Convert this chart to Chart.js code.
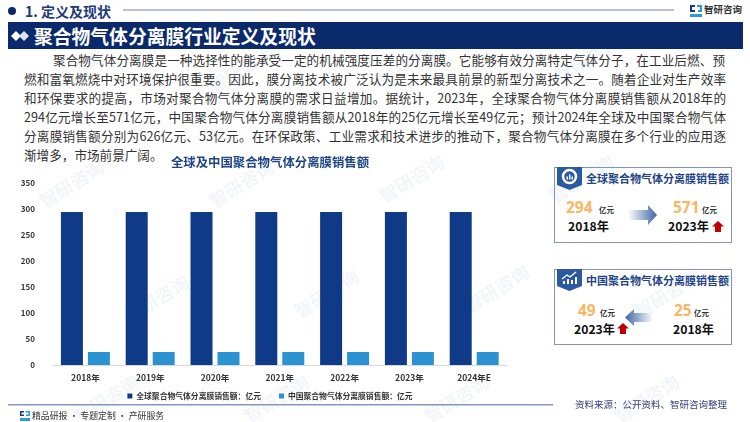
<!DOCTYPE html>
<html>
<head>
<meta charset="utf-8">
<script src="https://cdn.jsdelivr.net/npm/chart.js"></script>
<style>
html,body{margin:0;padding:0;background:#fff;}
body{width:750px;height:422px;overflow:hidden;position:relative;font-family:"Noto Sans CJK SC","Noto Sans",sans-serif;}
.a{position:absolute;white-space:nowrap;}
.para-line{position:absolute;left:24px;width:702px;font-size:12.6px;color:#333;text-align:justify;text-align-last:justify;}
.box{position:absolute;left:554px;width:178px;border:1px solid #7f93c4;box-sizing:border-box;}
.boxt{font-weight:700;color:#1f4587;font-size:11px;}
.num{font-weight:700;color:#fbb563;font-size:15.5px;font-family:"Open Sans","Noto Sans",sans-serif;}
.unit{font-weight:700;color:#333;font-size:7.5px;}
.yr{font-weight:700;color:#111;font-size:12.2px;}
.wm{position:absolute;color:#f1f5f9;font-size:18px;transform:rotate(-32deg);white-space:nowrap;font-weight:500;}
</style>
</head>
<body>
<div id="wms"></div>

<svg class="a" style="left:0;top:0" width="750" height="60">
  <circle cx="12" cy="11" r="4" fill="#0b2a6b"/>
  <line x1="123" y1="10" x2="674" y2="10" stroke="#6f86b8" stroke-width="1"/>
  <rect x="8" y="22" width="735" height="27" fill="#0b2a6b"/>
  <path d="M11 36 L16 31 L21 36 L16 41Z" fill="#fff"/>
  <path d="M19 36 L24 31 L29 36 L24 41Z" fill="#dfe5f0"/>
</svg>
<div class="a" style="left:25px;top:1px;font-size:14px;font-weight:700;color:#1d3a78;">1. 定义及现状</div>
<div class="a" style="left:34px;top:22px;font-size:18.8px;font-weight:700;color:#fff;">聚合物气体分离膜行业定义及现状</div>
<svg class="a" style="left:689px;top:4px" width="14" height="14">
  <path d="M1 1h5v2H3v3h3v2H1z" fill="#1d3a78"/>
  <path d="M8 1h5v7H9V6h2V3H8z" fill="#2f9bd6"/>
  <path d="M1 10h12v3H1z" fill="#2f9bd6"/>
</svg>
<div class="a" style="left:704px;top:2px;font-size:9.5px;font-weight:700;color:#333;">智研咨询</div>

<div class="para-line" style="left:53px;width:672px;top:50px;">聚合物气体分离膜是一种选择性的能承受一定的机械强度压差的分离膜。它能够有效分离特定气体分子，在工业后燃、预</div>
<div class="para-line" style="top:69px;">燃和富氧燃烧中对环境保护很重要。因此，膜分离技术被广泛认为是未来最具前景的新型分离技术之一。随着企业对生产效率</div>
<div class="para-line" style="top:88px;">和环保要求的提高，市场对聚合物气体分离膜的需求日益增加。据统计，2023年，全球聚合物气体分离膜销售额从2018年的</div>
<div class="para-line" style="top:107px;">294亿元增长至571亿元，中国聚合物气体分离膜销售额从2018年的25亿元增长至49亿元；预计2024年全球及中国聚合物气体</div>
<div class="para-line" style="top:126px;">分离膜销售额分别为626亿元、53亿元。在环保政策、工业需求和技术进步的推动下，聚合物气体分离膜在多个行业的应用逐</div>
<div class="para-line" style="top:145px;width:auto;text-align-last:left;">渐增多，市场前景广阔。</div>

<div class="a" style="left:0;top:152px;width:540px;height:267px;">
  <canvas id="myChart" width="540" height="267"></canvas>
</div>

<!-- global box -->
<div class="box" style="top:167px;height:76px;"></div>
<svg class="a" style="left:557px;top:167px" width="25" height="23"><path d="M0 0h25v18l-12.500 5L0 18z" fill="#2c5aa0"/><circle cx="12.500" cy="9.500" r="6.500" fill="none" stroke="#fff" stroke-width="2.500"/><path d="M9.500 12.500v-3H11v3zM12 12.500v-5h1.500v5zM14.500 12.500v-3H16v3z" fill="#fff"/></svg>
<div class="a boxt" style="left:586px;top:170px;">全球聚合物气体分离膜销售额</div>
<div class="a num" style="left:566px;top:196px;">294</div>
<div class="a unit" style="left:599px;top:204px;">亿元</div>
<div class="a yr" style="left:568px;top:217px;">2018年</div>
<svg class="a" style="left:628px;top:205px" width="30" height="20">
  <defs><linearGradient id="g1"><stop offset="0" stop-color="#fff"/><stop offset="1" stop-color="#3f64a6"/></linearGradient></defs>
  <path d="M0 5h20V0l9 10-9 10v-5H0z" fill="url(#g1)"/>
</svg>
<div class="a num" style="left:673px;top:196px;">571</div>
<div class="a unit" style="left:702px;top:204px;">亿元</div>
<div class="a yr" style="left:668px;top:217px;">2023年</div>
<svg class="a" style="left:712px;top:221px" width="12" height="11"><path d="M6 0l6 5.500H9V11H3V5.500H0z" fill="#c00000"/></svg>

<!-- china box -->
<div class="box" style="top:269px;height:76px;"></div>
<svg class="a" style="left:557px;top:269px" width="25" height="22"><path d="M0 0h25v17l-12.500 5L0 17z" fill="#2c5aa0"/><path d="M6 15v-3h2v3zM10 15v-5h2v5zM14 15v-4h2v4zM18 15V8h2v7z" fill="#fff"/><path d="M5 10l5-4 3 2 6-5" fill="none" stroke="#fff" stroke-width="1.400"/></svg>
<div class="a boxt" style="left:586px;top:272px;">中国聚合物气体分离膜销售额</div>
<div class="a num" style="left:578px;top:299px;">49</div>
<div class="a unit" style="left:600px;top:307px;">亿元</div>
<div class="a yr" style="left:574px;top:320px;">2023年</div>
<svg class="a" style="left:617px;top:323px" width="12" height="11"><path d="M6 0l6 5.500H9V11H3V5.500H0z" fill="#c00000"/></svg>
<svg class="a" style="left:625px;top:309px" width="28" height="17">
  <defs><linearGradient id="g2" x1="1" x2="0"><stop offset="0" stop-color="#fff"/><stop offset="1" stop-color="#3f64a6"/></linearGradient></defs>
  <path d="M28 4H9V0L0 8.500 9 17v-4h19z" fill="url(#g2)"/>
</svg>
<div class="a num" style="left:674px;top:299px;">25</div>
<div class="a unit" style="left:694px;top:307px;">亿元</div>
<div class="a yr" style="left:673px;top:320px;">2018年</div>

<!-- footer -->
<svg class="a" style="left:8px;top:404px" width="545" height="2"><rect width="545" height="1.500" fill="#8497c0"/></svg>
<svg class="a" style="left:20px;top:411px" width="10" height="10"><path d="M0 0h4v1.500H1.500v2H4V5H0z" fill="#1d3a78"/><path d="M5.500 0H10v5H6V3.500h2.500v-2h-3z" fill="#2f9bd6"/><path d="M0 7h10v3H0z" fill="#2f9bd6"/></svg>
<div class="a" style="left:32px;top:409px;font-size:8.9px;color:#333;">精品研报 · 专题定制 · 产研服务</div>
<div class="a" style="left:575px;top:397px;font-size:9.5px;color:#333e77;">资料来源：公开资料、智研咨询整理</div>

<script>
// Setup
const categories = ['2018年','2019年','2020年','2021年','2022年','2023年','2024年E'];
const globalSales = [294,294,294,294,294,294,294];
const chinaSales = [25,25,25,25,25,25,25];
const yTicks = [0,50,100,150,200,250,300,350];
const seriesNames = ['全球聚合物气体分离膜销售额：亿元','中国聚合物气体分离膜销售额：亿元'];
const chartTitle = '全球及中国聚合物气体分离膜销售额';

// watermark
const wms = document.getElementById('wms');
[[35,170],[205,170],[375,165],[545,165],[35,60],[205,55],[375,50],[550,45],[120,285],[290,280],[460,275],[630,280],[70,385],[240,385],[420,385],[610,385]].forEach(function(p){
  const d = document.createElement('div');
  d.className = 'wm';
  d.style.left = p[0]+'px';
  d.style.top = p[1]+'px';
  d.textContent = '智研咨询';
  wms.appendChild(d);
});

const data = {
  labels: categories,
  datasets: [{
    label: seriesNames[0],
    data: globalSales,
    backgroundColor: '#0f3a87',
    barPercentage: 0.815,
    categoryPercentage: 0.833
  },{
    label: seriesNames[1],
    data: chinaSales,
    backgroundColor: '#2b93d1',
    barPercentage: 0.815,
    categoryPercentage: 0.833
  }]
};

// legend padding also sets the gap between items, so pull it back up after layout
const liftLegend = {
  id: 'liftLegend',
  afterLayout: function(chart){ chart.legend.top -= 9; }
};

const config = {
  type: 'bar',
  data: data,
  plugins: [liftLegend],
  options: {
    responsive: false,
    animation: false,
    layout: { padding: 0 },
    plugins: {
      title: {
        display: true,
        text: chartTitle,
        color: '#1f4587',
        font: { size: 12.4, weight: 'bold', family: '"Noto Sans CJK SC"' },
        padding: { top: 3, bottom: 13 }
      },
      legend: {
        position: 'bottom',
        labels: {
          boxWidth: 5,
          boxHeight: 5,
          padding: 18,
          color: '#333',
          font: { size: 7.8, weight: 'bold', family: '"Noto Sans CJK SC"' }
        }
      },
      tooltip: { enabled: false }
    },
    scales: {
      x: {
        grid: { display: false },
        border: { color: '#d9d9d9' },
        ticks: { color: '#333', padding: 0, font: { size: 8.5, weight: 'bold', family: '"Noto Sans CJK SC"' } }
      },
      y: {
        min: 0,
        max: 350,
        afterBuildTicks: function(axis){ axis.ticks = yTicks.map(function(v){ return {value:v}; }); },
        afterFit: function(axis){ axis.width = 53; },
        grid: { display: false },
        border: { display: false },
        ticks: { color: '#333', padding: 10, font: { size: 8, weight: 'bold', family: '"Noto Sans CJK SC"' } }
      },
      // empty right axis, reserves the space right of the bars
      yRight: {
        position: 'right',
        afterFit: function(axis){ axis.width = 33.4; },
        grid: { display: false },
        border: { display: false },
        ticks: { display: false }
      }
    }
  }
};

var myChart = new Chart(document.getElementById('myChart'), config);
</script>
</body>
</html>
